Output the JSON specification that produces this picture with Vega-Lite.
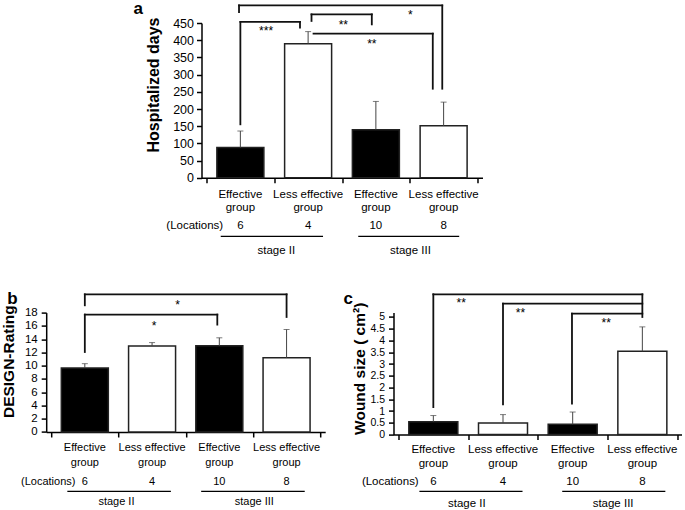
{
  "$schema": "https://vega.github.io/schema/vega-lite/v6.json",
  "padding": {"left": 1.2, "top": 0, "right": 0, "bottom": 0},
  "background": "white",
  "config": {
    "font": "Liberation Sans",
    "view": {"stroke": null},
    "axis": {"domainColor": "black", "tickColor": "black", "labelColor": "black", "titleColor": "black", "grid": false, "labelFont": "Liberation Sans", "titleFont": "Liberation Sans", "domainWidth": 1.5, "tickWidth": 1.5, "tickSize": 5, "labelPadding": 3, "labelOverlap": false, "labelFlush": false, "tickCount": 30, "labelExpr": "'' + datum.value"},
    "text": {"font": "Liberation Sans", "color": "black"}
  },
  "datasets": {
    "bars": [
      {"panel": "a", "pos": 0.5, "type": "Effective", "label": "Effective\ngroup", "n": "6", "mean": 88, "upper": 136},
      {"panel": "a", "pos": 1.5, "type": "Less effective", "label": "Less effective\ngroup", "n": "4", "mean": 390, "upper": 425},
      {"panel": "a", "pos": 2.5, "type": "Effective", "label": "Effective\ngroup", "n": "10", "mean": 140, "upper": 222},
      {"panel": "a", "pos": 3.5, "type": "Less effective", "label": "Less effective\ngroup", "n": "8", "mean": 151, "upper": 220},
      {"panel": "b", "pos": 0.5, "type": "Effective", "label": "Effective\ngroup", "n": "6", "mean": 9.65, "upper": 10.3},
      {"panel": "b", "pos": 1.5, "type": "Less effective", "label": "Less effective\ngroup", "n": "4", "mean": 12.97, "upper": 13.48},
      {"panel": "b", "pos": 2.5, "type": "Effective", "label": "Effective\ngroup", "n": "10", "mean": 13.0, "upper": 14.2},
      {"panel": "b", "pos": 3.5, "type": "Less effective", "label": "Less effective\ngroup", "n": "8", "mean": 11.2, "upper": 15.45},
      {"panel": "c", "pos": 0.5, "type": "Effective", "label": "Effective\ngroup", "n": "6", "mean": 0.55, "upper": 0.81},
      {"panel": "c", "pos": 1.5, "type": "Less effective", "label": "Less effective\ngroup", "n": "4", "mean": 0.49, "upper": 0.85},
      {"panel": "c", "pos": 2.5, "type": "Effective", "label": "Effective\ngroup", "n": "10", "mean": 0.44, "upper": 0.96},
      {"panel": "c", "pos": 3.5, "type": "Less effective", "label": "Less effective\ngroup", "n": "8", "mean": 3.54, "upper": 4.58}
    ],
    "segs": [
      {"panel": "a", "x1": 0.48, "x2": 3.48, "y1": 501, "y2": 501},
      {"panel": "a", "x1": 0.48, "x2": 0.48, "y1": 501, "y2": 482},
      {"panel": "a", "x1": 3.48, "x2": 3.48, "y1": 501, "y2": 259},
      {"panel": "a", "x1": 0.5, "x2": 1.38, "y1": 453, "y2": 453},
      {"panel": "a", "x1": 0.5, "x2": 0.5, "y1": 453, "y2": 155.5},
      {"panel": "a", "x1": 1.38, "x2": 1.38, "y1": 453, "y2": 436.6},
      {"panel": "a", "x1": 1.55, "x2": 2.44, "y1": 475, "y2": 475},
      {"panel": "a", "x1": 1.55, "x2": 1.55, "y1": 475, "y2": 456},
      {"panel": "a", "x1": 2.44, "x2": 2.44, "y1": 475, "y2": 446},
      {"panel": "a", "x1": 1.58, "x2": 3.34, "y1": 419, "y2": 419},
      {"panel": "a", "x1": 3.34, "x2": 3.34, "y1": 419, "y2": 259},
      {"panel": "b", "x1": 0.5, "x2": 3.5, "y1": 20.75, "y2": 20.75},
      {"panel": "b", "x1": 0.5, "x2": 0.5, "y1": 20.75, "y2": 19.1},
      {"panel": "b", "x1": 3.5, "x2": 3.5, "y1": 20.75, "y2": 17.34},
      {"panel": "b", "x1": 0.5, "x2": 2.47, "y1": 17.7, "y2": 17.7},
      {"panel": "b", "x1": 0.5, "x2": 0.5, "y1": 17.7, "y2": 12.06},
      {"panel": "b", "x1": 2.47, "x2": 2.47, "y1": 17.7, "y2": 16.19},
      {"panel": "c", "x1": 0.5, "x2": 3.5, "y1": 5.965, "y2": 5.965},
      {"panel": "c", "x1": 0.5, "x2": 0.5, "y1": 5.965, "y2": 1.17},
      {"panel": "c", "x1": 1.5, "x2": 3.5, "y1": 5.57, "y2": 5.57},
      {"panel": "c", "x1": 1.5, "x2": 1.5, "y1": 5.57, "y2": 1.29},
      {"panel": "c", "x1": 2.49, "x2": 3.5, "y1": 5.14, "y2": 5.14},
      {"panel": "c", "x1": 2.49, "x2": 2.49, "y1": 5.14, "y2": 1.32},
      {"panel": "c", "x1": 3.5, "x2": 3.5, "y1": 5.965, "y2": 5.0}
    ],
    "stars": [
      {"panel": "a", "x": 0.88, "y": 415, "sig": "***"},
      {"panel": "a", "x": 2.02, "y": 434, "sig": "**"},
      {"panel": "a", "x": 2.44, "y": 376, "sig": "**"},
      {"panel": "a", "x": 3.01, "y": 463, "sig": "*"},
      {"panel": "b", "x": 1.88, "y": 18.47, "sig": "*"},
      {"panel": "b", "x": 1.53, "y": 15.41, "sig": "*"},
      {"panel": "c", "x": 0.9, "y": 5.42, "sig": "**"},
      {"panel": "c", "x": 1.75, "y": 5.01, "sig": "**"},
      {"panel": "c", "x": 2.98, "y": 4.57, "sig": "**"}
    ],
    "stages": [
      {"panel": "a", "stage": "stage II", "start": 0.21, "end": 1.72, "center": 1.03},
      {"panel": "a", "stage": "stage III", "start": 2.24, "end": 3.73, "center": 3.01},
      {"panel": "b", "stage": "stage II", "start": 0.24, "end": 1.78, "center": 0.97},
      {"panel": "b", "stage": "stage III", "start": 2.23, "end": 3.77, "center": 3.02},
      {"panel": "c", "stage": "stage II", "start": 0.3, "end": 1.78, "center": 0.98},
      {"panel": "c", "stage": "stage III", "start": 2.35, "end": 3.83, "center": 3.08}
    ],
    "locs": [
      {"panel": "a", "x": 0.246, "text": "(Locations)"},
      {"panel": "b", "x": 0.36, "text": "(Locations)"},
      {"panel": "c", "x": 0.29, "text": "(Locations)"}
    ],
    "letters": [
      {"panel": "a", "letter": "a"},
      {"panel": "b", "letter": "b"},
      {"panel": "c", "letter": "c"}
    ]
  },
  "bounds": "flush",
  "spacing": 289.6,
  "vconcat": [
    {
      "bounds": "flush",
      "spacing": 68.3,
      "hconcat": [
        {"width": 86.7, "height": 10, "data": {"values": []}, "mark": "point"},
        {
          "width": 281, "height": 154.8,
          "layer": [
            {"data": {"name": "bars"}, "transform": [{"filter": "datum.panel === 'a'"}],
             "mark": {"type": "bar", "width": 47, "stroke": "#222", "strokeWidth": 1.5},
             "encoding": {
               "x": {"field": "pos", "type": "quantitative", "scale": {"domain": [0, 4], "nice": false}, "axis": {"values": [0, 1, 2, 3, 4], "labels": false, "title": null}},
               "y": {"field": "mean", "type": "quantitative", "scale": {"domain": [0, 450], "nice": false}, "axis": {"values": [0, 50, 100, 150, 200, 250, 300, 350, 400, 450], "title": "Hospitalized days", "titleFontSize": 16, "titleFontWeight": "bold", "titlePadding": 11, "labelFontSize": 12.5, "titleY": 61.5}},
               "y2": {"datum": 0},
               "fill": {"field": "type", "type": "nominal", "scale": {"domain": ["Effective", "Less effective"], "range": ["#000000", "#ffffff"]}, "legend": null}
             }},
            {"data": {"name": "bars"}, "transform": [{"filter": "datum.panel === 'a'"}],
             "mark": {"type": "rule", "color": "#444", "strokeWidth": 1},
             "encoding": {"x": {"field": "pos", "type": "quantitative"}, "y": {"field": "mean", "type": "quantitative"}, "y2": {"field": "upper"}}},
            {"data": {"name": "bars"}, "transform": [{"filter": "datum.panel === 'a'"}],
             "mark": {"type": "tick", "orient": "horizontal", "size": 6, "thickness": 1, "color": "#444"},
             "encoding": {"x": {"field": "pos", "type": "quantitative"}, "y": {"field": "upper", "type": "quantitative"}}},
            {"data": {"name": "segs"}, "transform": [{"filter": "datum.panel === 'a'"}],
             "mark": {"type": "rule", "color": "#111", "strokeWidth": 1.8, "strokeCap": "square"},
             "encoding": {"x": {"field": "x1", "type": "quantitative"}, "x2": {"field": "x2"}, "y": {"field": "y1", "type": "quantitative"}, "y2": {"field": "y2"}}},
            {"data": {"name": "stars"}, "transform": [{"filter": "datum.panel === 'a'"}],
             "mark": {"type": "text", "fontSize": 12, "baseline": "alphabetic", "align": "center"},
             "encoding": {"x": {"field": "x", "type": "quantitative"}, "y": {"field": "y", "type": "quantitative"}, "text": {"field": "sig"}}},
            {"data": {"name": "bars"}, "transform": [{"filter": "datum.panel === 'a'"}],
             "mark": {"type": "text", "lineBreak": "\n", "lineHeight": 14, "fontSize": 11.5, "dy": 19.7, "baseline": "alphabetic", "align": "center"},
             "encoding": {"x": {"field": "pos", "type": "quantitative"}, "y": {"datum": 0}, "text": {"field": "label"}}},
            {"data": {"name": "bars"}, "transform": [{"filter": "datum.panel === 'a'"}],
             "mark": {"type": "text", "fontSize": 11.5, "dy": 50.7, "baseline": "alphabetic", "align": "center"},
             "encoding": {"x": {"field": "pos", "type": "quantitative"}, "y": {"datum": 0}, "text": {"field": "n"}}},
            {"data": {"name": "locs"}, "transform": [{"filter": "datum.panel === 'a'"}],
             "mark": {"type": "text", "fontSize": 11.5, "dy": 50.7, "baseline": "alphabetic", "align": "right"},
             "encoding": {"x": {"field": "x", "type": "quantitative"}, "y": {"datum": 0}, "text": {"field": "text"}}},
            {"data": {"name": "stages"}, "transform": [{"filter": "datum.panel === 'a'"}],
             "mark": {"type": "rule", "color": "black", "strokeWidth": 1.3, "yOffset": 58.5, "y2Offset": 58.5},
             "encoding": {"x": {"field": "start", "type": "quantitative"}, "x2": {"field": "end"}, "y": {"datum": 0}}},
            {"data": {"name": "stages"}, "transform": [{"filter": "datum.panel === 'a'"}],
             "mark": {"type": "text", "fontSize": 11.5, "dy": 75.7, "baseline": "alphabetic", "align": "center"},
             "encoding": {"x": {"field": "center", "type": "quantitative"}, "y": {"datum": 0}, "text": {"field": "stage"}}},
            {"data": {"name": "letters"}, "transform": [{"filter": "datum.panel === 'a'"}],
             "mark": {"type": "text", "fontSize": 17, "fontWeight": "bold", "align": "left", "baseline": "alphabetic", "dx": -73, "dy": -8.7},
             "encoding": {"x": {"datum": 0}, "y": {"datum": 450}, "text": {"field": "letter"}}}
          ]
        }
      ]
    },
    {
      "bounds": "flush",
      "spacing": 68.3,
      "hconcat": [
        {
          "width": 279, "height": 119.4,
          "layer": [
            {"data": {"name": "bars"}, "transform": [{"filter": "datum.panel === 'b'"}],
             "mark": {"type": "bar", "width": 47, "stroke": "#222", "strokeWidth": 1.5},
             "encoding": {
               "x": {"field": "pos", "type": "quantitative", "scale": {"domain": [0, 4], "nice": false}, "axis": {"values": [0, 1, 2, 3, 4], "labels": false, "title": null}},
               "y": {"field": "mean", "type": "quantitative", "scale": {"domain": [0, 18], "nice": false}, "axis": {"values": [0, 2, 4, 6, 8, 10, 12, 14, 16, 18], "title": "DESIGN-Rating", "titleFontSize": 15.5, "titleFontWeight": "bold", "titlePadding": 7.5, "labelFontSize": 11.5, "labelPadding": 4, "titleY": 48.6}},
               "y2": {"datum": 0},
               "fill": {"field": "type", "type": "nominal", "scale": {"domain": ["Effective", "Less effective"], "range": ["#000000", "#ffffff"]}, "legend": null}
             }},
            {"data": {"name": "bars"}, "transform": [{"filter": "datum.panel === 'b'"}],
             "mark": {"type": "rule", "color": "#444", "strokeWidth": 1},
             "encoding": {"x": {"field": "pos", "type": "quantitative"}, "y": {"field": "mean", "type": "quantitative"}, "y2": {"field": "upper"}}},
            {"data": {"name": "bars"}, "transform": [{"filter": "datum.panel === 'b'"}],
             "mark": {"type": "tick", "orient": "horizontal", "size": 6, "thickness": 1, "color": "#444"},
             "encoding": {"x": {"field": "pos", "type": "quantitative"}, "y": {"field": "upper", "type": "quantitative"}}},
            {"data": {"name": "segs"}, "transform": [{"filter": "datum.panel === 'b'"}],
             "mark": {"type": "rule", "color": "#111", "strokeWidth": 1.8, "strokeCap": "square"},
             "encoding": {"x": {"field": "x1", "type": "quantitative"}, "x2": {"field": "x2"}, "y": {"field": "y1", "type": "quantitative"}, "y2": {"field": "y2"}}},
            {"data": {"name": "stars"}, "transform": [{"filter": "datum.panel === 'b'"}],
             "mark": {"type": "text", "fontSize": 12, "baseline": "alphabetic", "align": "center"},
             "encoding": {"x": {"field": "x", "type": "quantitative"}, "y": {"field": "y", "type": "quantitative"}, "text": {"field": "sig"}}},
            {"data": {"name": "bars"}, "transform": [{"filter": "datum.panel === 'b'"}],
             "mark": {"type": "text", "lineBreak": "\n", "lineHeight": 15, "fontSize": 11, "dy": 19.2, "baseline": "alphabetic", "align": "center"},
             "encoding": {"x": {"field": "pos", "type": "quantitative"}, "y": {"datum": 0}, "text": {"field": "label"}}},
            {"data": {"name": "bars"}, "transform": [{"filter": "datum.panel === 'b'"}],
             "mark": {"type": "text", "fontSize": 11, "dy": 52.9, "baseline": "alphabetic", "align": "center"},
             "encoding": {"x": {"field": "pos", "type": "quantitative"}, "y": {"datum": 0}, "text": {"field": "n"}}},
            {"data": {"name": "locs"}, "transform": [{"filter": "datum.panel === 'b'"}],
             "mark": {"type": "text", "fontSize": 11, "dy": 52.9, "baseline": "alphabetic", "align": "right"},
             "encoding": {"x": {"field": "x", "type": "quantitative"}, "y": {"datum": 0}, "text": {"field": "text"}}},
            {"data": {"name": "stages"}, "transform": [{"filter": "datum.panel === 'b'"}],
             "mark": {"type": "rule", "color": "black", "strokeWidth": 1.3, "yOffset": 59.3, "y2Offset": 59.3},
             "encoding": {"x": {"field": "start", "type": "quantitative"}, "x2": {"field": "end"}, "y": {"datum": 0}}},
            {"data": {"name": "stages"}, "transform": [{"filter": "datum.panel === 'b'"}],
             "mark": {"type": "text", "fontSize": 11, "dy": 73.2, "baseline": "alphabetic", "align": "center"},
             "encoding": {"x": {"field": "center", "type": "quantitative"}, "y": {"datum": 0}, "text": {"field": "stage"}}},
            {"data": {"name": "letters"}, "transform": [{"filter": "datum.panel === 'b'"}],
             "mark": {"type": "text", "fontSize": 17, "fontWeight": "bold", "align": "left", "baseline": "alphabetic", "dx": -44, "dy": -8.3},
             "encoding": {"x": {"datum": 0}, "y": {"datum": 18}, "text": {"field": "letter"}}}
          ]
        },
        {
          "width": 288.7, "height": 122,
          "layer": [
            {"data": {"name": "bars"}, "transform": [{"filter": "datum.panel === 'c'"}],
             "mark": {"type": "bar", "width": 49, "stroke": "#222", "strokeWidth": 1.5},
             "encoding": {
               "x": {"field": "pos", "type": "quantitative", "scale": {"domain": [0, 4], "nice": false}, "axis": {"values": [0, 1, 2, 3, 4], "labels": false, "title": null}},
               "y": {"field": "mean", "type": "quantitative", "scale": {"domain": [0, 5.187], "nice": false}, "axis": {"values": [0, 0.5, 1, 1.5, 2, 2.5, 3, 3.5, 4, 4.5, 5], "title": "Wound size ( cm²)", "titleFontSize": 15.5, "titleFontWeight": "bold", "titlePadding": 2, "labelFontSize": 10.5, "labelPadding": 4, "titleY": 55.7}},
               "y2": {"datum": 0},
               "fill": {"field": "type", "type": "nominal", "scale": {"domain": ["Effective", "Less effective"], "range": ["#000000", "#ffffff"]}, "legend": null}
             }},
            {"data": {"name": "bars"}, "transform": [{"filter": "datum.panel === 'c'"}],
             "mark": {"type": "rule", "color": "#444", "strokeWidth": 1},
             "encoding": {"x": {"field": "pos", "type": "quantitative"}, "y": {"field": "mean", "type": "quantitative"}, "y2": {"field": "upper"}}},
            {"data": {"name": "bars"}, "transform": [{"filter": "datum.panel === 'c'"}],
             "mark": {"type": "tick", "orient": "horizontal", "size": 6, "thickness": 1, "color": "#444"},
             "encoding": {"x": {"field": "pos", "type": "quantitative"}, "y": {"field": "upper", "type": "quantitative"}}},
            {"data": {"name": "segs"}, "transform": [{"filter": "datum.panel === 'c'"}],
             "mark": {"type": "rule", "color": "#111", "strokeWidth": 1.8, "strokeCap": "square"},
             "encoding": {"x": {"field": "x1", "type": "quantitative"}, "x2": {"field": "x2"}, "y": {"field": "y1", "type": "quantitative"}, "y2": {"field": "y2"}}},
            {"data": {"name": "stars"}, "transform": [{"filter": "datum.panel === 'c'"}],
             "mark": {"type": "text", "fontSize": 12, "baseline": "alphabetic", "align": "center"},
             "encoding": {"x": {"field": "x", "type": "quantitative"}, "y": {"field": "y", "type": "quantitative"}, "text": {"field": "sig"}}},
            {"data": {"name": "bars"}, "transform": [{"filter": "datum.panel === 'c'"}],
             "mark": {"type": "text", "lineBreak": "\n", "lineHeight": 14, "fontSize": 11.5, "dy": 18.6, "baseline": "alphabetic", "align": "center"},
             "encoding": {"x": {"field": "pos", "type": "quantitative"}, "y": {"datum": 0}, "text": {"field": "label"}}},
            {"data": {"name": "bars"}, "transform": [{"filter": "datum.panel === 'c'"}],
             "mark": {"type": "text", "fontSize": 11.5, "dy": 50.3, "baseline": "alphabetic", "align": "center"},
             "encoding": {"x": {"field": "pos", "type": "quantitative"}, "y": {"datum": 0}, "text": {"field": "n"}}},
            {"data": {"name": "locs"}, "transform": [{"filter": "datum.panel === 'c'"}],
             "mark": {"type": "text", "fontSize": 11.5, "dy": 50.3, "baseline": "alphabetic", "align": "right"},
             "encoding": {"x": {"field": "x", "type": "quantitative"}, "y": {"datum": 0}, "text": {"field": "text"}}},
            {"data": {"name": "stages"}, "transform": [{"filter": "datum.panel === 'c'"}],
             "mark": {"type": "rule", "color": "black", "strokeWidth": 1.3, "yOffset": 56.7, "y2Offset": 56.7},
             "encoding": {"x": {"field": "start", "type": "quantitative"}, "x2": {"field": "end"}, "y": {"datum": 0}}},
            {"data": {"name": "stages"}, "transform": [{"filter": "datum.panel === 'c'"}],
             "mark": {"type": "text", "fontSize": 11.5, "dy": 72.3, "baseline": "alphabetic", "align": "center"},
             "encoding": {"x": {"field": "center", "type": "quantitative"}, "y": {"datum": 0}, "text": {"field": "stage"}}},
            {"data": {"name": "letters"}, "transform": [{"filter": "datum.panel === 'c'"}],
             "mark": {"type": "text", "fontSize": 17, "fontWeight": "bold", "align": "left", "baseline": "alphabetic", "dx": -55, "dy": -8.3},
             "encoding": {"x": {"datum": 0}, "y": {"datum": 5.187}, "text": {"field": "letter"}}}
          ]
        }
      ]
    }
  ]
}
